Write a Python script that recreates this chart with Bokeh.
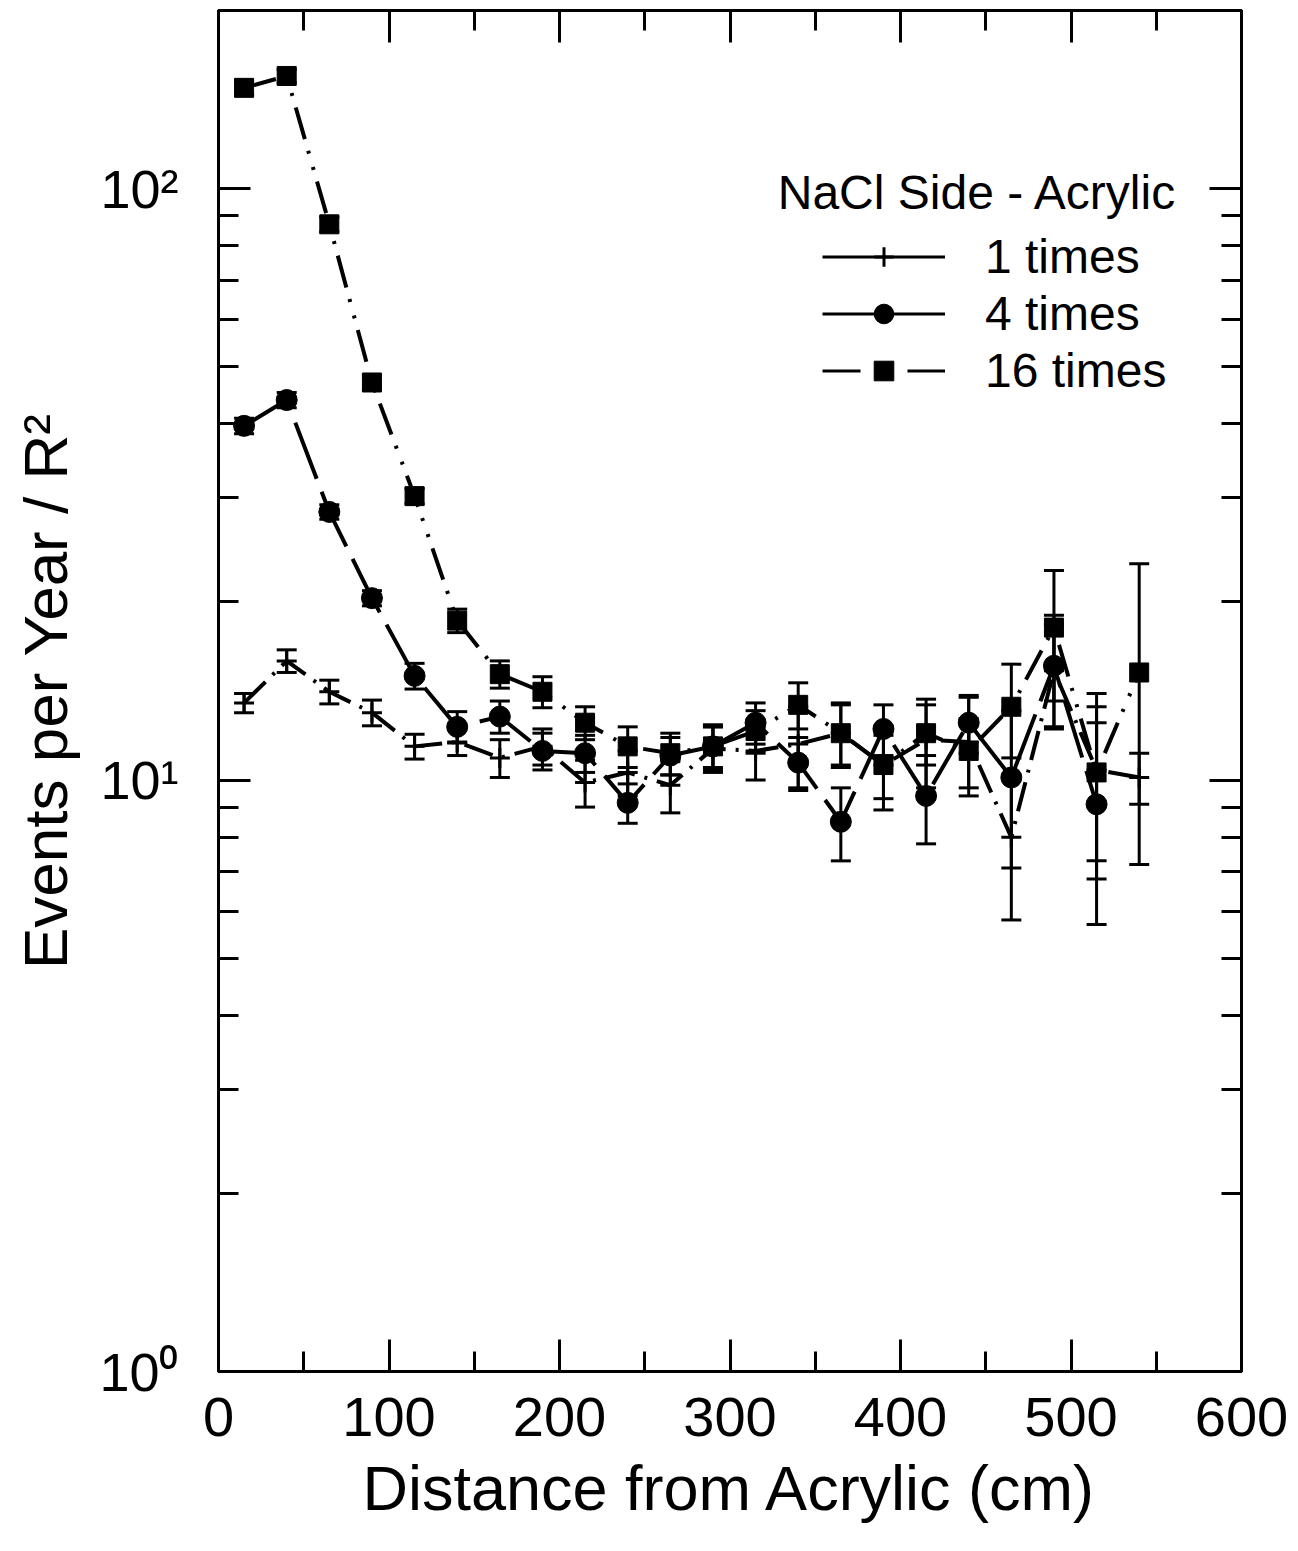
from bokeh.plotting import figure
from bokeh.models import (ColumnDataSource, Whisker, TeeHead, FixedTicker, LinearAxis, LogAxis,
                          Range1d, Legend, LegendItem, Label, CustomJSTickFormatter)
from bokeh.embed import file_html
from bokeh.resources import INLINE

# ---------------- data ----------------
distance = [15, 40, 65, 90, 115, 140, 165, 190, 215, 240, 265,
            290, 315, 340, 365, 390, 415, 440, 465, 490, 515, 540]

times1 = [13.5, 15.9, 14.1, 13.0, 11.4, 11.6, 10.9, 11.4, 9.9, 10.3, 9.8,
          11.3, 11.2, 11.5, 12.0, 10.6, 11.7, 11.6, 8.0, 15.3, 10.4, 10.1]
times1_err = [0.5, 0.7, 0.65, 0.65, 0.55, 0.6, 0.8, 0.8, 0.9, 0.9, 1.0,
              1.0, 1.2, 1.8, 1.5, 1.7, 2.0, 2.2, 2.2, 3.0, 3.6, 1.0]

times4 = [39.7, 43.9, 28.4, 20.3, 15.0, 12.3, 12.8, 11.2, 11.1, 9.15, 11.0,
          11.4, 12.5, 10.7, 8.5, 12.2, 9.4, 12.5, 10.1, 15.6, 9.1]
times4_err = [1.2, 1.3, 0.8, 0.6, 0.75, 0.75, 0.8, 0.8, 0.8, 0.7, 0.8,
              0.9, 1.0, 1.1, 1.2, 1.2, 1.6, 1.4, 3.0, 3.4, 3.4]

times16 = [148, 155, 87, 47, 30.2, 18.6, 15.1, 14.1, 12.5, 11.4, 11.1,
           11.4, 12.1, 13.4, 12.0, 10.6, 12.0, 11.2, 13.3, 18.1, 10.3, 15.2]
times16_err = [4.0, 4.0, 2.5, 1.3, 0.9, 0.85, 0.8, 0.85, 0.8, 0.9, 0.9,
               1.0, 1.0, 1.2, 1.4, 1.3, 1.4, 1.5, 2.4, 4.5, 3.0, 8.0]

series_labels = ["1 times", "4 times", "16 times"]

x_major = [0, 100, 200, 300, 400, 500, 600]
x_minor = [50, 150, 250, 350, 450, 550]
y_major = [1, 10, 100]
y_minor = [2, 3, 4, 5, 6, 7, 8, 9, 20, 30, 40, 50, 60, 70, 80, 90, 200]

FONT = "Liberation Sans"
NAN = float("nan")

p = figure(width=1298, height=1551, output_backend="svg", toolbar_location=None,
           y_axis_type="log", x_range=Range1d(0, 600), y_range=Range1d(1, 200),
           min_border_left=218, min_border_right=57, min_border_top=10, min_border_bottom=180,
           x_axis_label="Distance from Acrylic (cm)", y_axis_label="Events per Year / R²")
p.grid.visible = False
p.outline_line_color = "black"
p.outline_line_width = 3
p.background_fill_color = "white"
p.border_fill_color = "white"

xt = FixedTicker(ticks=x_major, minor_ticks=x_minor)
yt = FixedTicker(ticks=y_major, minor_ticks=y_minor)
yfmt = CustomJSTickFormatter(code="""
const e = Math.round(Math.log10(tick));
const sup = {'0':'\u2070','1':'\u00b9','2':'\u00b2','3':'\u00b3'};
return '10' + sup[String(e)];
""")

def style_axis(ax, labels=True):
    ax.axis_line_width = 3
    ax.axis_line_color = "black"
    ax.major_tick_line_width = 3
    ax.minor_tick_line_width = 3
    ax.major_tick_out = 0
    ax.minor_tick_out = 0
    ax.major_tick_in = 32
    ax.minor_tick_in = 20
    ax.major_label_text_color = "black"
    ax.axis_label_text_color = "black"
    if not labels:
        ax.major_label_text_font_size = "0px"
        ax.major_label_text_alpha = 0
        ax.major_label_standoff = 0

xa = p.xaxis[0]
xa.ticker = xt
style_axis(xa)
xa.major_label_text_font = FONT
xa.major_label_text_font_size = "56px"
xa.major_label_standoff = 26
xa.axis_label_text_font = FONT
xa.axis_label_text_font_size = "63px"
xa.axis_label_text_font_style = "normal"
xa.axis_label_standoff = 14

ya = p.yaxis[0]
ya.ticker = yt
ya.formatter = yfmt
style_axis(ya)
ya.major_label_text_font = FONT
ya.major_label_text_font_size = "54px"
ya.major_label_standoff = 40
ya.axis_label_text_font = FONT
ya.axis_label_text_font_size = "62px"
ya.axis_label_text_font_style = "normal"
ya.axis_label_standoff = 16

top = LinearAxis(ticker=FixedTicker(ticks=x_major, minor_ticks=x_minor))
style_axis(top, labels=False)
p.add_layout(top, "above")
right = LogAxis(ticker=FixedTicker(ticks=y_major, minor_ticks=y_minor))
style_axis(right, labels=False)
p.add_layout(right, "right")

def add_errors(xs, ys, errs):
    src = ColumnDataSource(dict(x=xs,
                                lo=[y - e for y, e in zip(ys, errs)],
                                hi=[y + e for y, e in zip(ys, errs)]))
    w = Whisker(source=src, base="x", lower="lo", upper="hi", dimension="height",
                line_width=3, line_color="black", level="glyph",
                lower_head=TeeHead(size=20, line_width=3, line_color="black"),
                upper_head=TeeHead(size=20, line_width=3, line_color="black"))
    p.add_layout(w)

# 1 times
add_errors(distance, times1, times1_err)
p.line(distance, times1, line_width=4, color="black", line_dash="30 10 3 10")
p.scatter(distance, times1, marker="cross", size=20, line_width=3, color="black")

# 4 times
d4 = distance[:len(times4)]
add_errors(d4, times4, times4_err)
p.line(d4, times4, line_width=4, color="black", line_dash="60 14")
p.scatter(d4, times4, marker="circle", size=21, color="black")

# 16 times
add_errors(distance, times16, times16_err)
p.line(distance, times16, line_width=4, color="black", line_dash="33 12 3 14 3 12")
p.scatter(distance, times16, marker="square", size=19, color="black")

# legend-only glyphs (a single NaN point so that nothing is drawn in the plot area)
l1 = p.line([NAN], [NAN], line_width=3, color="black")
m1 = p.scatter([NAN], [NAN], marker="cross", size=14, line_width=3, color="black")
l4 = p.line([NAN], [NAN], line_width=3, color="black")
m4 = p.scatter([NAN], [NAN], marker="circle", size=18, color="black")
l16 = p.line([NAN], [NAN], line_width=3, color="black", line_dash="38 47")
m16 = p.scatter([NAN], [NAN], marker="square", size=16, color="black")

legend = Legend(items=[LegendItem(label=series_labels[0], renderers=[l1, m1]),
                       LegendItem(label=series_labels[1], renderers=[l4, m4]),
                       LegendItem(label=series_labels[2], renderers=[l16, m16])],
                location=(604, 973), border_line_color=None, background_fill_alpha=0,
                padding=0, margin=0, spacing=2, label_standoff=40,
                glyph_width=123, glyph_height=49, label_height=49,
                label_text_font=FONT, label_text_font_size="48px",
                label_text_color="black")
p.add_layout(legend)

title = Label(x=328, y=98.4, text="NaCl Side - Acrylic", text_baseline="middle",
              text_font=FONT, text_font_size="48px", text_color="black")
p.add_layout(title)

open("out.html", "w").write(file_html(p, INLINE))
